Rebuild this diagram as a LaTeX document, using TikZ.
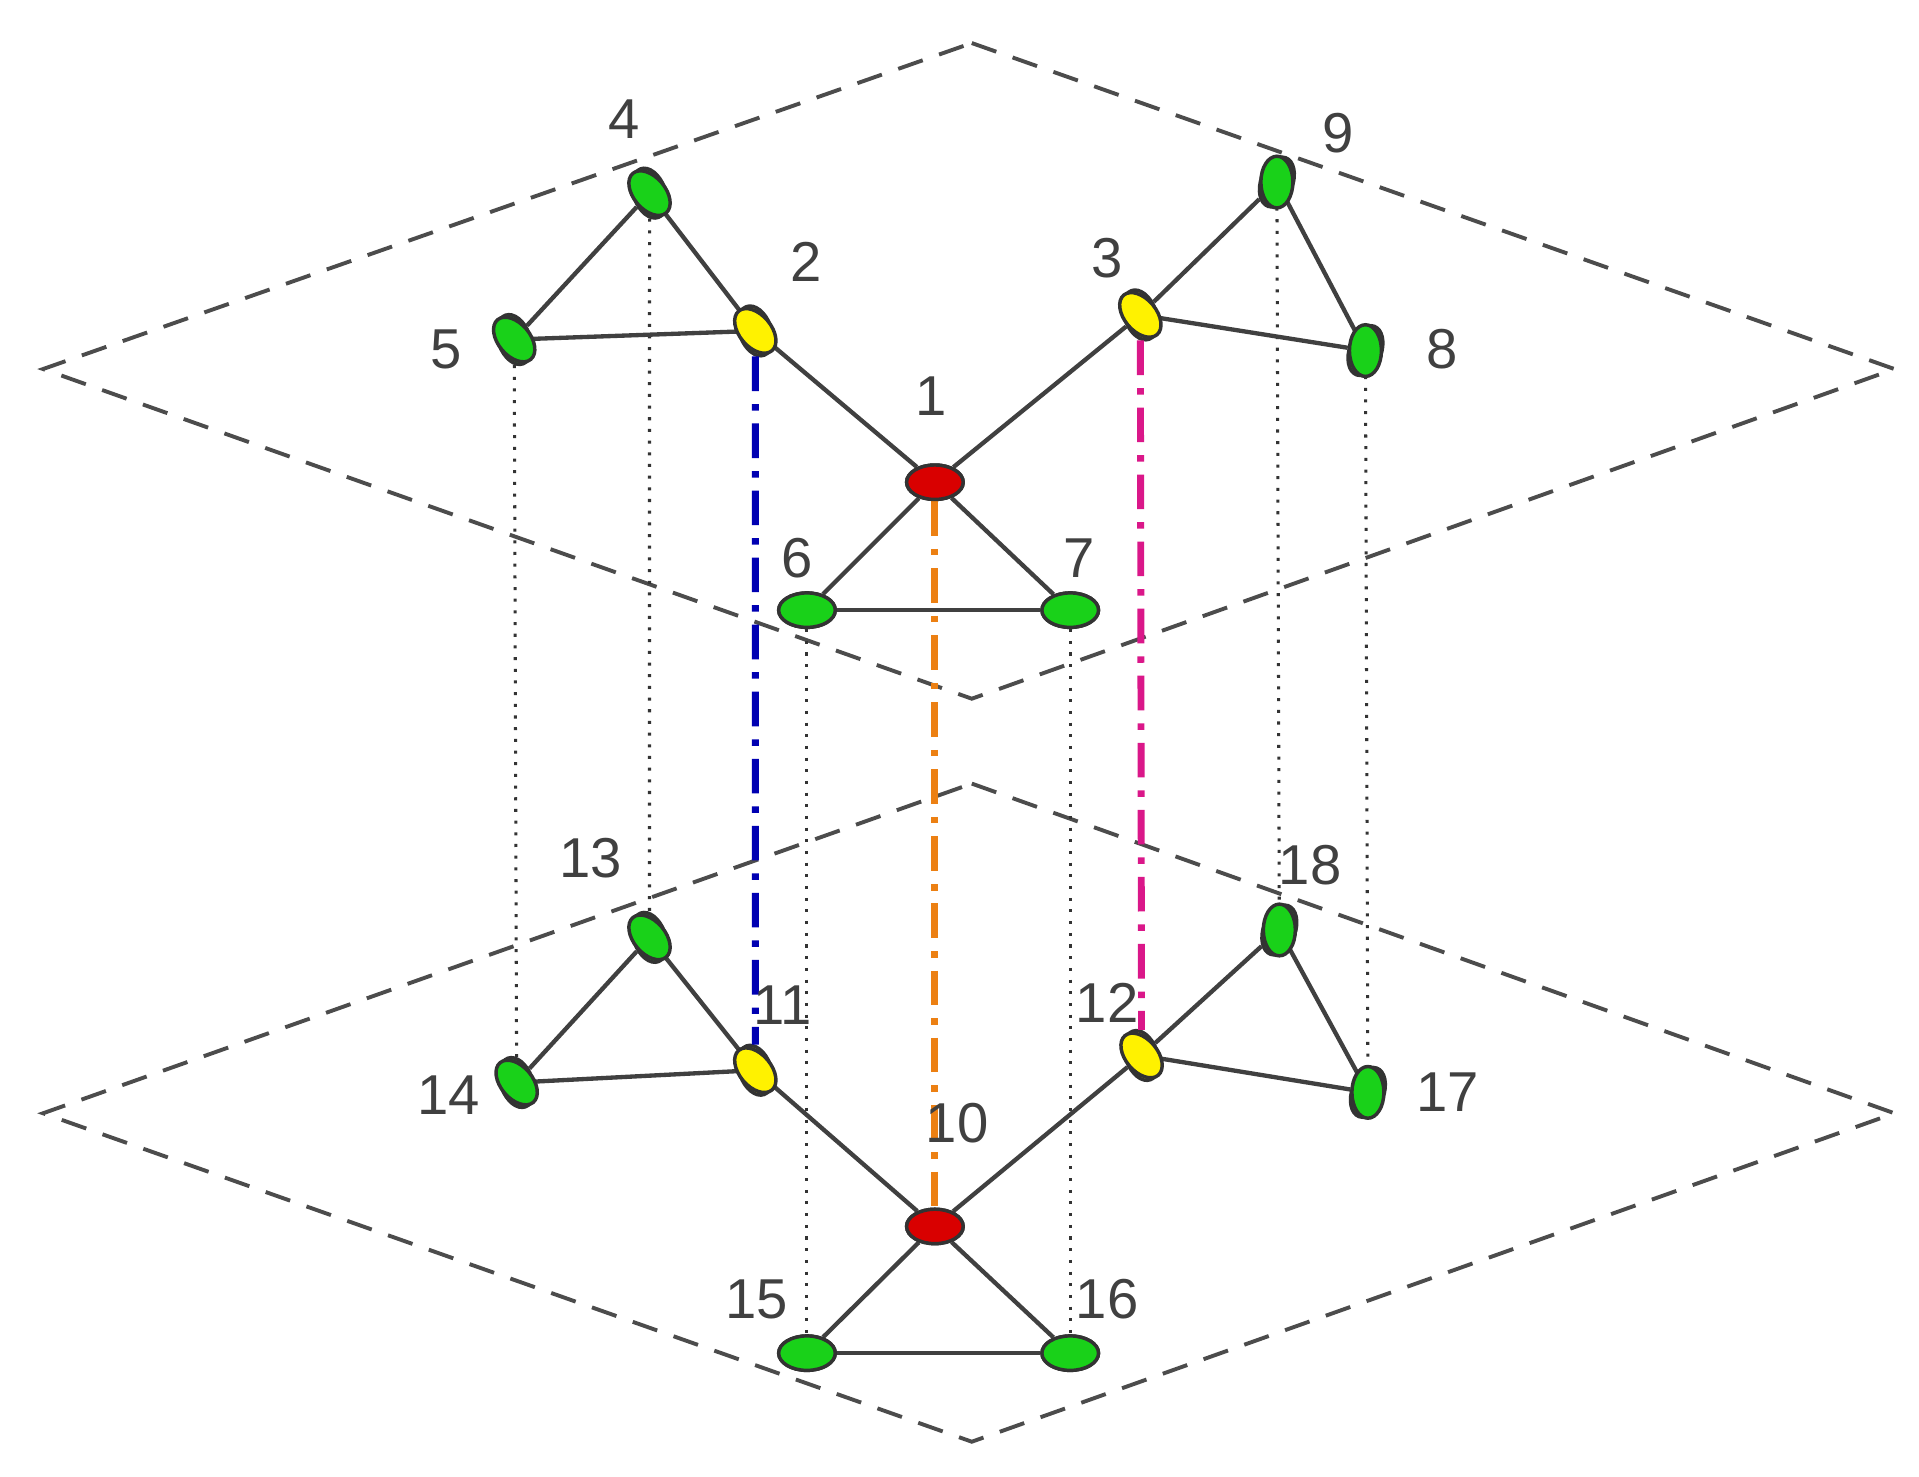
\documentclass[tikz,border=0pt]{standalone}
\usepackage{fontspec}
\setmainfont{Liberation Sans}
\usetikzlibrary{shapes.geometric}
\begin{document}
\begin{tikzpicture}[x=0.01cm,y=-0.01cm,
  plane/.style={draw=black!70,dash pattern=on 6pt off 4pt,line width=0.9pt},
  tie/.style={dotted,black!80,line width=0.7pt},
  edge/.style={black!75,line width=1pt},
  tnode/.style={ellipse,draw=black!80,line width=0.8pt,minimum width=0.26cm,minimum height=0.42cm,inner sep=0pt,rotate=20},
  hnode/.style={ellipse,draw=black!80,line width=0.8pt,minimum width=0.46cm,minimum height=0.28cm,inner sep=0pt},
  gr/.style={fill=green!80!black!90},
  ye/.style={fill=yellow},
  rd/.style={fill=red!85!black},
  lab/.style={text=black!75,font=\fontsize{13}{15}\selectfont}]
\useasboundingbox (0,0) rectangle (1560,1200);
\coordinate (ut) at (790,35); \coordinate (ul) at (35,300); \coordinate (ur) at (1540,300); \coordinate (ub) at (790,568);
\coordinate (lt) at (790,637); \coordinate (ll) at (35,905); \coordinate (lr) at (1540,905); \coordinate (lb) at (790,1172);
\draw[plane] (ut)--(ur)--(ub)--(ul)--cycle;
\draw[plane] (lt)--(lr)--(lb)--(ll)--cycle;
% nodes
\node[tnode,gr] (n4) at (528,157) {};
\node[tnode,gr] (n5) at (418,276) {};
\node[tnode,ye] (n2) at (614,269) {};
\node[tnode,ye] (n3) at (927,256) {};
\node[tnode,gr,rotate=-40] (n9) at (1038,148) {};
\node[tnode,gr,rotate=-40] (n8) at (1110,285) {};
\node[hnode,rd] (n1) at (760,392) {};
\node[hnode,gr] (n6) at (656,496) {};
\node[hnode,gr] (n7) at (870,496) {};
\node[tnode,gr] (n13) at (528,762) {};
\node[tnode,gr] (n14) at (420,880) {};
\node[tnode,ye] (n11) at (614,870) {};
\node[tnode,ye] (n12) at (928,858) {};
\node[tnode,gr,rotate=-40] (n18) at (1040,756) {};
\node[tnode,gr,rotate=-40] (n17) at (1112,888) {};
\node[hnode,rd] (n10) at (760,997) {};
\node[hnode,gr] (n15) at (656,1100) {};
\node[hnode,gr] (n16) at (870,1100) {};
% vertical ties
\draw[tie] (n5) -- (n14);
\draw[tie] (n4) -- (n13);
\draw[tie] (n6) -- (n15);
\draw[tie] (n7) -- (n16);
\draw[tie] (n9) -- (n18);
\draw[tie] (n8) -- (n17);
\draw[blue!70!black,line width=1.6pt,dash pattern=on 8pt off 3pt on 1.5pt off 3pt] (n2) -- (n11);
\draw[orange!70!brown,line width=1.6pt,dash pattern=on 8pt off 3pt on 1.5pt off 3pt] (n1) -- (n10);
\draw[magenta!80!violet,line width=1.6pt,dash pattern=on 8pt off 3pt on 1.5pt off 3pt] (n3) -- (n12);
% edges
\foreach \a/\b in {n4/n5,n4/n2,n5/n2,n2/n1,n3/n1,n3/n9,n9/n8,n3/n8,n1/n6,n1/n7,n6/n7,
                   n13/n14,n13/n11,n14/n11,n11/n10,n12/n10,n12/n18,n18/n17,n12/n17,n10/n15,n10/n16,n15/n16}
  \draw[edge] (\a) -- (\b);
% redraw nodes on top
\foreach \n/\s/\r in {n4/gr/20,n5/gr/20,n2/ye/20,n3/ye/20,n9/gr/-20,n8/gr/-20,n13/gr/20,n14/gr/20,n11/ye/20,n12/ye/20,n18/gr/-20,n17/gr/-20}
  \node[tnode,\s,rotate=\r] at (\n) {};
\foreach \n/\s in {n1/rd,n6/gr,n7/gr,n10/rd,n15/gr,n16/gr}
  \node[hnode,\s] at (\n) {};
% labels
\node[lab] (l4) at (507,97) {4};
\node[lab] (l5) at (363,284) {5};
\node[lab] (l2) at (655,213) {2};
\node[lab] (l3) at (900,210) {3};
\node[lab] (l9) at (1088,108) {9};
\node[lab] (l8) at (1172,284) {8};
\node[lab] (l1) at (757,322) {1};
\node[lab] (l6) at (648,454) {6};
\node[lab] (l7) at (877,454) {7};
\node[lab] (l13) at (480,698) {13};
\node[lab] (l14) at (365,890) {14};
\node[lab] (l11) at (636,817) {11};
\node[lab] (l12) at (900,815) {12};
\node[lab] (l18) at (1065,703) {18};
\node[lab] (l17) at (1177,888) {17};
\node[lab] (l10) at (778,913) {10};
\node[lab] (l15) at (615,1056) {15};
\node[lab] (l16) at (900,1056) {16};
\end{tikzpicture}
\end{document}
